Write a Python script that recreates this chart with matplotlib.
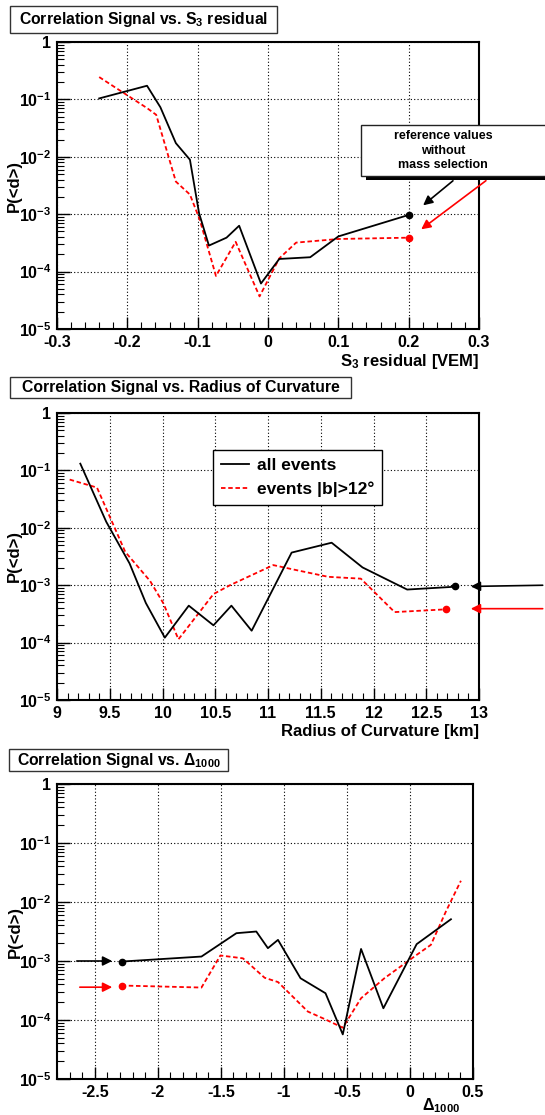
import numpy as np
import matplotlib
matplotlib.use('Agg')
import matplotlib.pyplot as plt
from matplotlib.patches import Rectangle
from matplotlib.ticker import FixedLocator, MultipleLocator, LogLocator, NullFormatter

plt.rcParams['font.family'] = ['Liberation Sans', 'DejaVu Sans']
plt.rcParams['font.weight'] = 'bold'
plt.rcParams['mathtext.fontset'] = 'custom'
plt.rcParams['mathtext.bf'] = 'Liberation Sans:bold'
plt.rcParams['mathtext.rm'] = 'Liberation Sans:bold'
plt.rcParams['mathtext.default'] = 'bf'
plt.rcParams['axes.unicode_minus'] = False

# S3 residual panel
s3_all_x = [-0.240, -0.172, -0.153, -0.131, -0.111, -0.098, -0.084, -0.059, -0.041, -0.010, 0.016, 0.060, 0.100, 0.200]
s3_all_y = [0.104, 0.173, 0.073, 0.0173, 0.0089, 1.04e-3, 2.84e-4, 3.9e-4, 6.3e-4, 6.2e-5, 1.66e-4, 1.78e-4, 4.1e-4, 9.7e-4]
s3_cut_x = [-0.240, -0.172, -0.159, -0.131, -0.111, -0.097, -0.074, -0.046, -0.012, 0.016, 0.040, 0.100, 0.200]
s3_cut_y = [0.245, 0.0706, 0.054, 3.7e-3, 2.2e-3, 8.0e-4, 8.4e-5, 3.3e-4, 3.7e-5, 1.7e-4, 3.2e-4, 3.7e-4, 3.9e-4]

# Radius of curvature panel
rc_all_x = [9.221, 9.467, 9.688, 9.842, 10.022, 10.249, 10.483, 10.653, 10.845, 11.224, 11.603, 11.896, 12.319, 12.770]
rc_all_y = [0.131, 0.0127, 2.39e-3, 4.9e-4, 1.22e-4, 4.4e-4, 2.0e-4, 4.4e-4, 1.61e-4, 3.7e-3, 5.5e-3, 2.04e-3, 8.4e-4, 9.4e-4]
rc_cut_x = [9.120, 9.379, 9.647, 9.883, 10.009, 10.151, 10.483, 10.64, 11.05, 11.24, 11.57, 11.88, 12.20, 12.69]
rc_cut_y = [0.0692, 0.0502, 3.8e-3, 1.18e-3, 4.8e-4, 1.14e-4, 7.0e-4, 1.0e-3, 2.24e-3, 1.88e-3, 1.4e-3, 1.3e-3, 3.4e-4, 3.8e-4]

# Delta1000 panel
d_all_x = [-2.282, -1.654, -1.377, -1.219, -1.127, -1.047, -0.868, -0.670, -0.533, -0.388, -0.211, 0.053, 0.325]
d_all_y = [9.8e-4, 1.19e-3, 2.96e-3, 3.16e-3, 1.65e-3, 2.28e-3, 5.1e-4, 2.84e-4, 5.7e-5, 1.6e-3, 1.58e-4, 1.93e-3, 5.1e-3]
d_cut_x = [-2.288, -1.654, -1.504, -1.325, -1.153, -1.047, -0.810, -0.678, -0.533, -0.388, -0.203, 0.053, 0.166, 0.285, 0.404]
d_cut_y = [3.84e-4, 3.55e-4, 1.24e-3, 1.11e-3, 5.2e-4, 4.4e-4, 1.39e-4, 1.04e-4, 7.4e-5, 2.34e-4, 5.1e-4, 1.27e-3, 1.88e-3, 6.9e-3, 0.0229]

ref_all = 9.5e-4
ref_cut = 3.9e-4

y_ticks = [1e-5, 1e-4, 1e-3, 1e-2, 1e-1, 1]
y_labels = [r'$10^{-5}$', r'$10^{-4}$', r'$10^{-3}$', r'$10^{-2}$', r'$10^{-1}$', '1']

W, H = 545, 1115


def rect(x0, y0, x1, y1):
    return [x0 / W, 1 - y1 / H, (x1 - x0) / W, (y1 - y0) / H]


def style(ax, xlim, xmajor, xlabels):
    ax.set_yscale('log')
    ax.set_ylim(1e-5, 1)
    ax.set_xlim(xlim)
    ax.yaxis.set_major_locator(FixedLocator(y_ticks))
    ax.set_yticklabels(y_labels)
    ax.yaxis.set_minor_locator(LogLocator(base=10, subs=np.arange(2, 10), numticks=20))
    ax.yaxis.set_minor_formatter(NullFormatter())
    ax.xaxis.set_major_locator(FixedLocator(xmajor))
    ax.set_xticklabels(xlabels)
    ax.xaxis.set_minor_locator(MultipleLocator(0.2 * (xmajor[1] - xmajor[0])))
    ax.tick_params(which='major', direction='in', length=9, width=1, labelsize=11.5, pad=4,
                   top=False, right=False)
    ax.tick_params(axis='x', which='major', pad=4.5)
    ax.tick_params(which='minor', direction='in', length=5, width=0.8, top=False, right=False)
    ax.grid(True, which='major', linestyle=(0, (1, 2)), color='black', lw=0.8)
    for s in ax.spines.values():
        s.set_linewidth(1.5)
    ax.text(-0.1, 0.5, 'P(<d>)', transform=ax.transAxes, rotation=90,
            ha='center', va='center', fontsize=12)


def title_box(fig, x0, y0, x1, y1, text):
    fig.add_artist(Rectangle((x0 / W, 1 - y1 / H), (x1 - x0) / W, (y1 - y0) / H,
                             transform=fig.transFigure, facecolor='white',
                             edgecolor='#333333', lw=1.0))
    fig.text((x0 + x1) / 2 / W, 1 - (y0 + y1) / 2 / H, text, ha='center', va='center',
             fontsize=11.3)


fig = plt.figure(figsize=(5.45, 11.15), dpi=100)

red_dash = (0, (2.5, 1.5))

# ---------- panel 1 ----------
ax1 = fig.add_axes(rect(57, 42, 479, 329))
style(ax1, (-0.3, 0.3), [-0.3, -0.2, -0.1, 0, 0.1, 0.2, 0.3],
      ['-0.3', '-0.2', '-0.1', '0', '0.1', '0.2', '0.3'])
ax1.plot(s3_cut_x, s3_cut_y, color='red', ls=red_dash, lw=1.3)
ax1.plot(s3_all_x, s3_all_y, color='black', lw=1.3)
ax1.plot([s3_all_x[-1]], [ref_all], 'o', color='black', ms=4.5)
ax1.plot([s3_cut_x[-1]], [ref_cut], 'o', color='red', ms=4.5)
ax1.annotate('', xy=(0.2175, 1.33e-3), xytext=(0.266, 4.1e-3),
             arrowprops=dict(arrowstyle='-|>', color='black', lw=1.2, mutation_scale=14),
             annotation_clip=False)
ax1.annotate('', xy=(0.2147, 5.1e-4), xytext=(0.313, 4.1e-3),
             arrowprops=dict(arrowstyle='-|>', color='red', lw=1.2, mutation_scale=14),
             annotation_clip=False)
ax1.text(1.0, -0.08, r'S$_{3}$ residual [VEM]', transform=ax1.transAxes,
         ha='right', va='top', fontsize=12)
# reference box with shadow
fig.add_artist(Rectangle((366 / W, 1 - 180 / H), 190 / W, 50 / H, transform=fig.transFigure,
                         facecolor='black', edgecolor='none'))
fig.add_artist(Rectangle((361 / W, 1 - 176 / H), 190 / W, 51 / H, transform=fig.transFigure,
                         facecolor='white', edgecolor='#222222', lw=1.0))
fig.text(443 / W, 1 - 150.5 / H, 'reference values\nwithout\nmass selection',
         ha='center', va='center', fontsize=9, linespacing=1.25)
title_box(fig, 10, 6, 277, 33, r'Correlation Signal vs. S$_{3}$ residual')

# ---------- panel 2 ----------
ax2 = fig.add_axes(rect(57, 413, 479, 700))
style(ax2, (9, 13), [9, 9.5, 10, 10.5, 11, 11.5, 12, 12.5, 13],
      ['9', '9.5', '10', '10.5', '11', '11.5', '12', '12.5', '13'])
ax2.plot(rc_cut_x, rc_cut_y, color='red', ls=red_dash, lw=1.3, label='events |b|>12°')
ax2.plot(rc_all_x, rc_all_y, color='black', lw=1.3, label='all events')
ax2.plot([rc_all_x[-1]], [ref_all], 'o', color='black', ms=4.5)
ax2.plot([rc_cut_x[-1]], [ref_cut], 'o', color='red', ms=4.5)
ax2.annotate('', xy=(12.896, ref_all), xytext=(13.63, 1.0e-3),
             arrowprops=dict(arrowstyle='-|>', color='black', lw=1.2, mutation_scale=14),
             annotation_clip=False)
ax2.annotate('', xy=(12.896, ref_cut), xytext=(13.63, ref_cut),
             arrowprops=dict(arrowstyle='-|>', color='red', lw=1.2, mutation_scale=14),
             annotation_clip=False)
handles, labels = ax2.get_legend_handles_labels()
leg = ax2.legend(handles[::-1], labels[::-1], loc='upper left', bbox_to_anchor=(0.370, 0.871),
                 borderaxespad=0, fontsize=12.5, frameon=True, fancybox=False,
                 edgecolor='black', framealpha=1, handlelength=1.6, handletextpad=0.45,
                 borderpad=0.45, labelspacing=0.5)
leg.get_frame().set_linewidth(1.0)
ax2.text(1.0, -0.085, 'Radius of Curvature [km]', transform=ax2.transAxes,
         ha='right', va='top', fontsize=12)
title_box(fig, 10, 377, 351, 398, 'Correlation Signal vs. Radius of Curvature')

# ---------- panel 3 ----------
ax3 = fig.add_axes(rect(57, 784, 473, 1079))
style(ax3, (-2.8, 0.5), [-2.5, -2, -1.5, -1, -0.5, 0, 0.5],
      ['-2.5', '-2', '-1.5', '-1', '-0.5', '0', '0.5'])
ax3.plot(d_cut_x, d_cut_y, color='red', ls=red_dash, lw=1.3)
ax3.plot(d_all_x, d_all_y, color='black', lw=1.3)
ax3.plot([d_all_x[0]], [d_all_y[0]], 'o', color='black', ms=4.5)
ax3.plot([d_cut_x[0]], [d_cut_y[0]], 'o', color='red', ms=4.5)
ax3.annotate('', xy=(-2.34, 1.0e-3), xytext=(-2.665, 1.0e-3),
             arrowprops=dict(arrowstyle='-|>', color='black', lw=1.2, mutation_scale=14),
             annotation_clip=False)
ax3.annotate('', xy=(-2.34, 3.6e-4), xytext=(-2.641, 3.6e-4),
             arrowprops=dict(arrowstyle='-|>', color='red', lw=1.2, mutation_scale=14),
             annotation_clip=False)
ax3.text(0.968, -0.058, r'$\Delta_{1000}$', transform=ax3.transAxes,
         ha='right', va='top', fontsize=11.5)
title_box(fig, 9, 749, 228, 771, r'Correlation Signal vs. $\Delta_{1000}$')

fig.savefig('out.png', dpi=100)
